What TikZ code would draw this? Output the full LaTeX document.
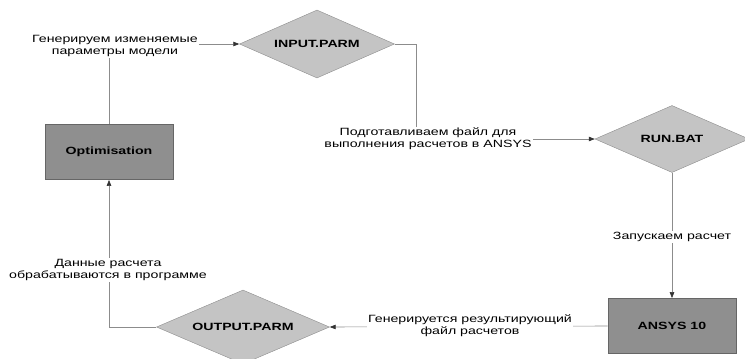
\documentclass[tikz,border=0pt]{standalone}
\usepackage{fontspec}
\setmainfont{Liberation Sans}[FakeStretch=1.35]
\usetikzlibrary{shapes.geometric,arrows.meta}
\definecolor{boxgray}{RGB}{143,143,143}
\definecolor{diagray}{RGB}{196,196,196}
\definecolor{linegray}{RGB}{140,140,140}
\begin{document}
\begin{tikzpicture}
            [x = 1pt, y = -1pt,
             font = \fontsize{10.5}{12}\selectfont,
             block/.style = {rectangle, draw = black!60, fill = boxgray, line width = 0.8pt,
                             minimum width = 128pt, minimum height = 55pt, font = \fontsize{10.5}{12}\selectfont\bfseries},
             file/.style = {diamond, draw = linegray, fill = diagray, inner sep = 0pt, shape aspect = 2.3,
                            font = \fontsize{10.5}{12}\selectfont\bfseries},
             lbl/.style = {fill = white, align = center, inner sep = 1pt},
             link/.style = {draw = linegray, line width = 0.6pt,
                            -{Triangle[length = 6pt, width = 4.5pt, color = black!80]}}]
            \useasboundingbox (0,0) rectangle (745,359);
            \node[block] (1) at (109,152) {Optimisation};
            \node[file, minimum width = 155pt, minimum height = 68pt] (2) at (317,44) {INPUT.PARM};
            \node[file, minimum width = 154pt, minimum height = 67pt] (3) at (672,139) {RUN.BAT};
            \node[block] (4) at (672,326) {ANSYS 10};
            \node[file, minimum width = 173pt, minimum height = 74pt] (5) at (243,327) {OUTPUT.PARM};
            \coordinate (c) at (416,139);
            \draw[link] (1.north) |- (2.west);
            \draw[link] (2.east) -| (c) -- (3.west);
            \draw[link] (3.south) -- (4.north);
            \draw[link] (4.west) -- (5.east);
            \draw[link] (5.west) -| (1.south);
            \node[lbl] (a) at (115,46) {Генерируем изменяемые\\параметры модели};
            \node[lbl] (b) at (428,139) {Подготавливаем файл для\\выполнения расчетов в ANSYS};
            \node[lbl] (d) at (672,237) {Запускаем расчет};
            \node[lbl] (e) at (470,326) {Генерируется результирующий\\файл расчетов};
            \node[lbl] (f) at (108,270) {Данные расчета\\обрабатываются в программе};
        \end{tikzpicture}
\end{document}
